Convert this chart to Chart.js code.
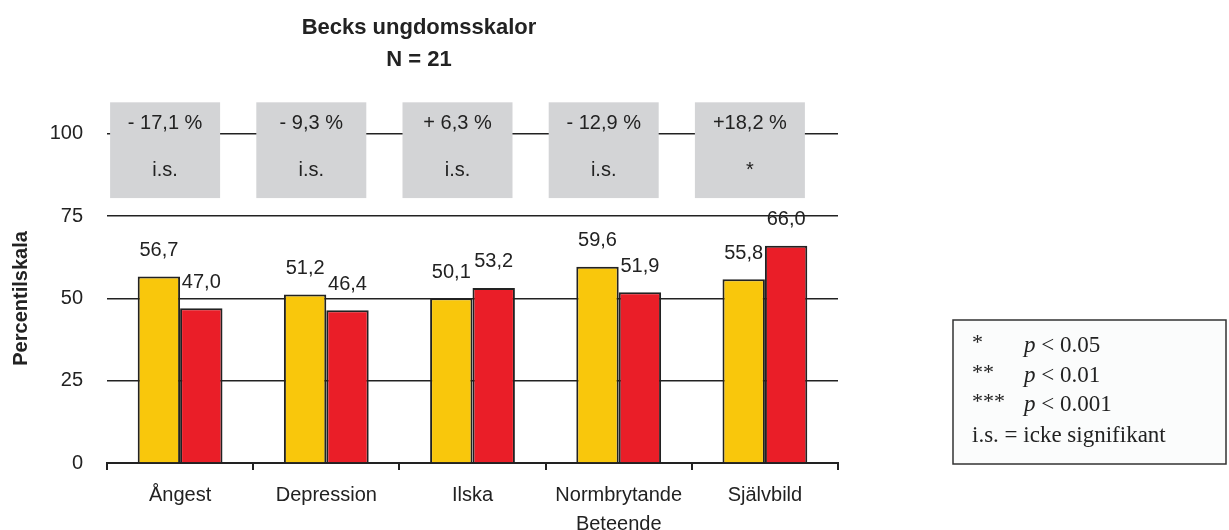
<!DOCTYPE html>
<html>
<head>
<meta charset="utf-8">
<script src="https://cdn.jsdelivr.net/npm/chart.js@4"></script>
<style>
  html, body { margin: 0; padding: 0; background: #fff; }
  #wrap { width: 1229px; height: 530px; position: relative; }
</style>
</head>
<body>
<div id="wrap"><canvas id="chart"></canvas></div>
<script>
// data
const categories = ['Ångest', 'Depression', 'Ilska', ['Normbrytande', 'Beteende'], 'Självbild'];
const before = [56.7, 51.2, 50.1, 59.6, 55.8];
const after = [47.0, 46.4, 53.2, 51.9, 66.0];
const changes = ['- 17,1 %', '- 9,3 %', '+ 6,3 %', '- 12,9 %', '+18,2 %'];
const signif = ['i.s.', 'i.s.', 'i.s.', 'i.s.', '*'];
const yTicks = [0, 25, 50, 75, 100];
const legendRows = [['*', 'p < 0.05'], ['**', 'p < 0.01'], ['***', 'p < 0.001']];

const SANS = '"Liberation Sans", Arial, sans-serif';
const SERIF = '"Liberation Serif", "Times New Roman", serif';
const TXT = '#222';

const fmt = v => v.toFixed(1).replace('.', ',');

// titles, grey boxes above bars, y title, legend box
const extras = {
  id: 'extras',
  beforeDatasetsDraw(chart) {
    const ctx = chart.ctx;
    const x = chart.scales.x, y = chart.scales.y;
    ctx.save();
    const top = y.getPixelForValue(109.6), bot = y.getPixelForValue(80.5);
    categories.forEach((c, i) => {
      const cx = x.getPixelForValue(i);
      const l = cx - 70, r = cx + 40;
      ctx.fillStyle = '#d3d4d6';
      ctx.fillRect(l, top, r - l, bot - top);
      ctx.fillStyle = TXT;
      ctx.font = '20px ' + SANS;
      ctx.textAlign = 'center';
      ctx.textBaseline = 'middle';
      ctx.fillText(changes[i], (l + r) / 2, top + 21);
      ctx.fillText(signif[i], (l + r) / 2, top + 68);
    });
    ctx.restore();
  },
  afterDatasetsDraw(chart) {
    const ctx = chart.ctx;
    ctx.save();
    ctx.fillStyle = TXT;
    ctx.textAlign = 'center';
    ctx.textBaseline = 'middle';
    ctx.font = '20px ' + SANS;
    chart.data.datasets.forEach((ds, di) => {
      chart.getDatasetMeta(di).data.forEach((bar, i) => {
        ctx.fillText(fmt(ds.data[i]), bar.x, bar.y - 26);
      });
    });

    // title
    ctx.font = 'bold 22px ' + SANS;
    ctx.fillText('Becks ungdomsskalor', 419, 28);
    ctx.fillText('N = 21', 419, 60);

    // y axis title
    const y = chart.scales.y;
    const mid = (y.getPixelForValue(0) + y.getPixelForValue(100)) / 2;
    ctx.translate(21, mid);
    ctx.rotate(-Math.PI / 2);
    ctx.font = 'bold 20px ' + SANS;
    ctx.fillText('Percentilskala', 0, 0);
    ctx.restore();

    // significance legend
    ctx.save();
    ctx.strokeStyle = '#333';
    ctx.lineWidth = 1.5;
    ctx.fillStyle = '#fbfcfc';
    ctx.fillRect(953, 320, 273, 144);
    ctx.strokeRect(953, 320, 273, 144);
    ctx.fillStyle = TXT;
    ctx.textBaseline = 'middle';
    ctx.textAlign = 'left';
    const rowsY = [346, 376, 405];
    legendRows.forEach((row, i) => {
      ctx.font = '22px ' + SERIF;
      ctx.fillText(row[0], 972, rowsY[i] - 3);
      ctx.font = 'italic 23px ' + SERIF;
      ctx.fillText('p', 1024, rowsY[i]);
      const pw = ctx.measureText('p ').width;
      ctx.font = '23px ' + SERIF;
      ctx.fillText(row[1].slice(2), 1024 + pw, rowsY[i]);
    });
    ctx.font = '23px ' + SERIF;
    ctx.fillText('i.s. = icke signifikant', 972, 436);
    ctx.restore();
  }
};

new Chart(document.getElementById('chart'), {
  type: 'bar',
  data: {
    labels: categories,
    datasets: [
      { data: before, backgroundColor: '#f9c70c', borderColor: '#222', borderWidth: 2 },
      { data: after, backgroundColor: '#ea1e28', borderColor: '#222', borderWidth: 2 }
    ]
  },
  options: {
    responsive: true,
    maintainAspectRatio: false,
    animation: false,
    layout: { padding: { top: 101, right: 391, left: 0, bottom: 0 } },
    categoryPercentage: 0.58,
    barPercentage: 1,
    plugins: { legend: { display: false }, tooltip: { enabled: false } },
    scales: {
      x: {
        afterFit: s => { s.height = 67; },
        border: { color: '#222', width: 2 },
        grid: { display: true, drawOnChartArea: false, offset: true, color: '#222', lineWidth: 2, tickLength: 7 },
        ticks: { color: TXT, font: { family: SANS, size: 20, lineHeight: 1.45 }, padding: 11, maxRotation: 0 }
      },
      y: {
        min: 0,
        max: 110,
        afterFit: s => { s.width = 107; },
        afterBuildTicks: s => { s.ticks = yTicks.map(v => ({ value: v })); },
        border: { display: false },
        grid: { color: '#222', lineWidth: 1.6, drawTicks: false },
        ticks: { color: TXT, font: { family: SANS, size: 20 }, padding: 24 }
      }
    }
  },
  plugins: [extras]
});
</script>
</body>
</html>
